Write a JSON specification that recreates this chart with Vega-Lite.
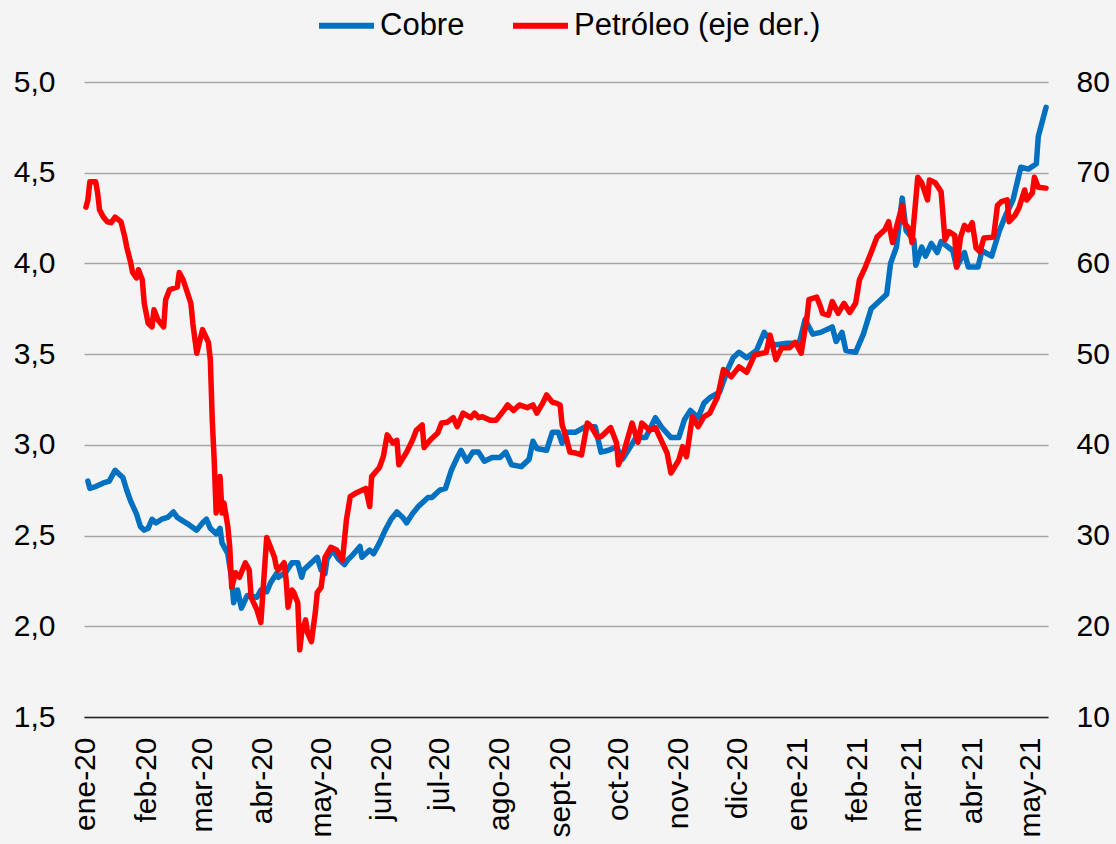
{
  "$schema": "https://vega.github.io/schema/vega-lite/v6.json",
  "width": 964,
  "height": 635,
  "autosize": {"type": "none"},
  "padding": {"left": 84, "top": 82, "right": 68, "bottom": 127},
  "background": "#F4F4F4",
  "config": {
    "view": {"stroke": null},
    "font": "Liberation Sans",
    "axis": {"labelFont": "Liberation Sans", "labelFontSize": 30, "labelColor": "#000000", "ticks": false, "title": null},
    "legend": {"labelFont": "Liberation Sans", "labelFontSize": 31, "labelColor": "#000000", "labelLimit": 0}
  },
  "datasets": {
    "cobre": [
      {"fecha":"2020-01-02","valor":2.80},{"fecha":"2020-01-03","valor":2.76},{"fecha":"2020-01-06","valor":2.77},{"fecha":"2020-01-10","valor":2.79},{"fecha":"2020-01-13","valor":2.80},{"fecha":"2020-01-16","valor":2.86},{"fecha":"2020-01-18","valor":2.84},{"fecha":"2020-01-20","valor":2.82},{"fecha":"2020-01-22","valor":2.75},{"fecha":"2020-01-24","valor":2.69},{"fecha":"2020-01-27","valor":2.62},{"fecha":"2020-01-29","valor":2.55},{"fecha":"2020-01-31","valor":2.53},
      {"fecha":"2020-02-02","valor":2.54},{"fecha":"2020-02-04","valor":2.59},{"fecha":"2020-02-06","valor":2.57},{"fecha":"2020-02-09","valor":2.59},{"fecha":"2020-02-12","valor":2.60},{"fecha":"2020-02-15","valor":2.63},{"fecha":"2020-02-17","valor":2.60},{"fecha":"2020-02-20","valor":2.58},{"fecha":"2020-02-23","valor":2.56},{"fecha":"2020-02-27","valor":2.53},
      {"fecha":"2020-03-01","valor":2.57},{"fecha":"2020-03-03","valor":2.59},{"fecha":"2020-03-05","valor":2.54},{"fecha":"2020-03-08","valor":2.51},{"fecha":"2020-03-10","valor":2.54},{"fecha":"2020-03-11","valor":2.46},{"fecha":"2020-03-14","valor":2.40},{"fecha":"2020-03-16","valor":2.26},{"fecha":"2020-03-17","valor":2.13},{"fecha":"2020-03-19","valor":2.20},{"fecha":"2020-03-21","valor":2.10},{"fecha":"2020-03-24","valor":2.17},{"fecha":"2020-03-29","valor":2.16},{"fecha":"2020-03-31","valor":2.20},
      {"fecha":"2020-04-03","valor":2.19},{"fecha":"2020-04-05","valor":2.24},{"fecha":"2020-04-08","valor":2.29},{"fecha":"2020-04-09","valor":2.27},{"fecha":"2020-04-13","valor":2.30},{"fecha":"2020-04-16","valor":2.35},{"fecha":"2020-04-19","valor":2.35},{"fecha":"2020-04-21","valor":2.27},{"fecha":"2020-04-22","valor":2.31},{"fecha":"2020-04-26","valor":2.35},{"fecha":"2020-04-29","valor":2.38},
      {"fecha":"2020-05-01","valor":2.31},{"fecha":"2020-05-03","valor":2.29},{"fecha":"2020-05-04","valor":2.37},{"fecha":"2020-05-07","valor":2.42},{"fecha":"2020-05-10","valor":2.37},{"fecha":"2020-05-13","valor":2.34},{"fecha":"2020-05-15","valor":2.37},{"fecha":"2020-05-17","valor":2.39},{"fecha":"2020-05-21","valor":2.44},{"fecha":"2020-05-22","valor":2.38},{"fecha":"2020-05-26","valor":2.42},{"fecha":"2020-05-28","valor":2.40},{"fecha":"2020-05-31","valor":2.46},
      {"fecha":"2020-06-03","valor":2.53},{"fecha":"2020-06-06","valor":2.59},{"fecha":"2020-06-09","valor":2.63},{"fecha":"2020-06-12","valor":2.60},{"fecha":"2020-06-14","valor":2.57},{"fecha":"2020-06-17","valor":2.62},{"fecha":"2020-06-20","valor":2.66},{"fecha":"2020-06-25","valor":2.71},{"fecha":"2020-06-27","valor":2.71},
      {"fecha":"2020-07-01","valor":2.75},{"fecha":"2020-07-04","valor":2.76},{"fecha":"2020-07-07","valor":2.86},{"fecha":"2020-07-10","valor":2.93},{"fecha":"2020-07-12","valor":2.97},{"fecha":"2020-07-15","valor":2.91},{"fecha":"2020-07-18","valor":2.96},{"fecha":"2020-07-21","valor":2.96},{"fecha":"2020-07-24","valor":2.91},{"fecha":"2020-07-28","valor":2.93},
      {"fecha":"2020-08-01","valor":2.93},{"fecha":"2020-08-04","valor":2.96},{"fecha":"2020-08-07","valor":2.89},{"fecha":"2020-08-12","valor":2.88},{"fecha":"2020-08-16","valor":2.92},{"fecha":"2020-08-18","valor":3.02},{"fecha":"2020-08-20","valor":2.98},{"fecha":"2020-08-25","valor":2.97},{"fecha":"2020-08-28","valor":3.07},{"fecha":"2020-08-31","valor":3.07},
      {"fecha":"2020-09-02","valor":3.01},{"fecha":"2020-09-04","valor":3.07},{"fecha":"2020-09-09","valor":3.07},{"fecha":"2020-09-14","valor":3.10},{"fecha":"2020-09-19","valor":3.10},{"fecha":"2020-09-22","valor":2.96},{"fecha":"2020-09-26","valor":2.97},{"fecha":"2020-09-30","valor":2.99},
      {"fecha":"2020-10-03","valor":2.92},{"fecha":"2020-10-06","valor":2.97},{"fecha":"2020-10-10","valor":3.04},{"fecha":"2020-10-15","valor":3.04},{"fecha":"2020-10-20","valor":3.15},{"fecha":"2020-10-23","valor":3.10},{"fecha":"2020-10-28","valor":3.04},
      {"fecha":"2020-11-01","valor":3.04},{"fecha":"2020-11-04","valor":3.14},{"fecha":"2020-11-07","valor":3.19},{"fecha":"2020-11-11","valor":3.15},{"fecha":"2020-11-14","valor":3.23},{"fecha":"2020-11-17","valor":3.26},{"fecha":"2020-11-22","valor":3.29},{"fecha":"2020-11-26","valor":3.41},{"fecha":"2020-11-29","valor":3.48},
      {"fecha":"2020-12-02","valor":3.51},{"fecha":"2020-12-06","valor":3.48},{"fecha":"2020-12-11","valor":3.52},{"fecha":"2020-12-15","valor":3.62},{"fecha":"2020-12-20","valor":3.55},{"fecha":"2020-12-27","valor":3.56},
      {"fecha":"2021-01-02","valor":3.56},{"fecha":"2021-01-05","valor":3.69},{"fecha":"2021-01-09","valor":3.61},{"fecha":"2021-01-13","valor":3.62},{"fecha":"2021-01-19","valor":3.65},{"fecha":"2021-01-21","valor":3.57},{"fecha":"2021-01-24","valor":3.62},{"fecha":"2021-01-26","valor":3.52},{"fecha":"2021-01-31","valor":3.51},
      {"fecha":"2021-02-04","valor":3.61},{"fecha":"2021-02-08","valor":3.75},{"fecha":"2021-02-12","valor":3.79},{"fecha":"2021-02-16","valor":3.83},{"fecha":"2021-02-18","valor":4.00},{"fecha":"2021-02-21","valor":4.09},{"fecha":"2021-02-24","valor":4.36},{"fecha":"2021-02-26","valor":4.18},
      {"fecha":"2021-03-02","valor":4.13},{"fecha":"2021-03-03","valor":3.99},{"fecha":"2021-03-06","valor":4.09},{"fecha":"2021-03-08","valor":4.04},{"fecha":"2021-03-11","valor":4.11},{"fecha":"2021-03-14","valor":4.06},{"fecha":"2021-03-16","valor":4.12},{"fecha":"2021-03-22","valor":4.07},{"fecha":"2021-03-24","valor":3.98},{"fecha":"2021-03-28","valor":4.06},{"fecha":"2021-03-30","valor":3.98},
      {"fecha":"2021-04-04","valor":3.98},{"fecha":"2021-04-06","valor":4.07},{"fecha":"2021-04-11","valor":4.04},{"fecha":"2021-04-15","valor":4.18},{"fecha":"2021-04-18","valor":4.26},{"fecha":"2021-04-22","valor":4.35},{"fecha":"2021-04-26","valor":4.53},{"fecha":"2021-04-30","valor":4.52},
      {"fecha":"2021-05-04","valor":4.55},{"fecha":"2021-05-05","valor":4.70},{"fecha":"2021-05-09","valor":4.86}
    ],
    "petroleo": [
      {"fecha":"2020-01-01","valor":66.2},{"fecha":"2020-01-02","valor":67.0},{"fecha":"2020-01-03","valor":69.0},{"fecha":"2020-01-06","valor":69.0},{"fecha":"2020-01-07","valor":67.8},{"fecha":"2020-01-08","valor":65.9},{"fecha":"2020-01-10","valor":65.1},{"fecha":"2020-01-12","valor":64.6},{"fecha":"2020-01-14","valor":64.5},{"fecha":"2020-01-16","valor":65.1},{"fecha":"2020-01-19","valor":64.6},{"fecha":"2020-01-21","valor":62.9},{"fecha":"2020-01-22","valor":61.8},{"fecha":"2020-01-24","valor":60.1},{"fecha":"2020-01-25","valor":59.0},{"fecha":"2020-01-27","valor":58.4},{"fecha":"2020-01-28","valor":59.3},{"fecha":"2020-01-30","valor":58.2},{"fecha":"2020-01-31","valor":55.6},
      {"fecha":"2020-02-02","valor":53.4},{"fecha":"2020-02-04","valor":53.0},{"fecha":"2020-02-05","valor":54.9},{"fecha":"2020-02-07","valor":53.8},{"fecha":"2020-02-10","valor":53.0},{"fecha":"2020-02-11","valor":56.0},{"fecha":"2020-02-13","valor":57.1},{"fecha":"2020-02-17","valor":57.4},{"fecha":"2020-02-18","valor":59.0},{"fecha":"2020-02-20","valor":58.2},{"fecha":"2020-02-24","valor":55.6},{"fecha":"2020-02-25","valor":53.4},{"fecha":"2020-02-27","valor":50.1},
      {"fecha":"2020-03-01","valor":52.7},{"fecha":"2020-03-04","valor":51.3},{"fecha":"2020-03-05","valor":49.4},{"fecha":"2020-03-06","valor":42.7},{"fecha":"2020-03-07","valor":38.3},{"fecha":"2020-03-08","valor":32.5},{"fecha":"2020-03-10","valor":36.5},{"fecha":"2020-03-11","valor":32.5},{"fecha":"2020-03-12","valor":33.6},{"fecha":"2020-03-14","valor":31.0},{"fecha":"2020-03-15","valor":28.7},{"fecha":"2020-03-16","valor":24.3},{"fecha":"2020-03-18","valor":25.9},{"fecha":"2020-03-20","valor":25.4},{"fecha":"2020-03-23","valor":27.0},{"fecha":"2020-03-25","valor":26.2},{"fecha":"2020-03-26","valor":23.2},{"fecha":"2020-03-29","valor":21.8},{"fecha":"2020-03-31","valor":20.4},
      {"fecha":"2020-04-03","valor":29.8},{"fecha":"2020-04-05","valor":28.7},{"fecha":"2020-04-07","valor":27.6},{"fecha":"2020-04-08","valor":26.5},{"fecha":"2020-04-09","valor":26.2},{"fecha":"2020-04-12","valor":27.0},{"fecha":"2020-04-13","valor":25.1},{"fecha":"2020-04-14","valor":22.1},{"fecha":"2020-04-16","valor":24.0},{"fecha":"2020-04-17","valor":23.7},{"fecha":"2020-04-19","valor":22.6},{"fecha":"2020-04-20","valor":17.4},{"fecha":"2020-04-21","valor":19.3},{"fecha":"2020-04-23","valor":20.7},{"fecha":"2020-04-24","valor":19.3},{"fecha":"2020-04-26","valor":18.3},{"fecha":"2020-04-28","valor":21.5},{"fecha":"2020-04-29","valor":23.7},
      {"fecha":"2020-05-01","valor":24.3},{"fecha":"2020-05-03","valor":27.6},{"fecha":"2020-05-06","valor":28.7},{"fecha":"2020-05-09","valor":28.4},{"fecha":"2020-05-12","valor":27.3},{"fecha":"2020-05-14","valor":31.7},{"fecha":"2020-05-16","valor":34.3},{"fecha":"2020-05-19","valor":34.7},{"fecha":"2020-05-22","valor":35.0},{"fecha":"2020-05-24","valor":35.2},{"fecha":"2020-05-26","valor":33.2},{"fecha":"2020-05-27","valor":36.5},{"fecha":"2020-05-31","valor":37.5},
      {"fecha":"2020-06-02","valor":38.7},{"fecha":"2020-06-04","valor":41.1},{"fecha":"2020-06-07","valor":40.2},{"fecha":"2020-06-09","valor":40.5},{"fecha":"2020-06-10","valor":37.8},{"fecha":"2020-06-14","valor":39.2},{"fecha":"2020-06-17","valor":40.5},{"fecha":"2020-06-19","valor":41.6},{"fecha":"2020-06-22","valor":42.2},{"fecha":"2020-06-23","valor":39.7},{"fecha":"2020-06-26","valor":40.5},{"fecha":"2020-06-30","valor":41.3},
      {"fecha":"2020-07-02","valor":42.4},{"fecha":"2020-07-05","valor":42.5},{"fecha":"2020-07-08","valor":43.0},{"fecha":"2020-07-10","valor":42.0},{"fecha":"2020-07-13","valor":43.5},{"fecha":"2020-07-17","valor":43.0},{"fecha":"2020-07-19","valor":43.5},{"fecha":"2020-07-21","valor":43.0},{"fecha":"2020-07-23","valor":43.1},{"fecha":"2020-07-27","valor":42.7},{"fecha":"2020-07-30","valor":42.7},
      {"fecha":"2020-08-03","valor":43.8},{"fecha":"2020-08-05","valor":44.4},{"fecha":"2020-08-08","valor":43.8},{"fecha":"2020-08-11","valor":44.4},{"fecha":"2020-08-15","valor":44.1},{"fecha":"2020-08-18","valor":44.4},{"fecha":"2020-08-20","valor":43.5},{"fecha":"2020-08-23","valor":44.6},{"fecha":"2020-08-25","valor":45.5},{"fecha":"2020-08-28","valor":44.7},{"fecha":"2020-08-30","valor":44.6},
      {"fecha":"2020-09-01","valor":44.4},{"fecha":"2020-09-02","valor":42.2},{"fecha":"2020-09-04","valor":40.9},{"fecha":"2020-09-06","valor":39.2},{"fecha":"2020-09-09","valor":39.1},{"fecha":"2020-09-12","valor":38.9},{"fecha":"2020-09-15","valor":42.4},{"fecha":"2020-09-17","valor":42.0},{"fecha":"2020-09-20","valor":40.9},{"fecha":"2020-09-22","valor":40.9},{"fecha":"2020-09-27","valor":41.9},{"fecha":"2020-09-30","valor":40.2},
      {"fecha":"2020-10-01","valor":37.8},{"fecha":"2020-10-04","valor":39.4},{"fecha":"2020-10-08","valor":42.4},{"fecha":"2020-10-11","valor":40.3},{"fecha":"2020-10-13","valor":42.4},{"fecha":"2020-10-17","valor":41.6},{"fecha":"2020-10-20","valor":41.9},{"fecha":"2020-10-23","valor":40.5},{"fecha":"2020-10-26","valor":39.1},{"fecha":"2020-10-28","valor":36.9},
      {"fecha":"2020-11-01","valor":38.3},{"fecha":"2020-11-03","valor":39.8},{"fecha":"2020-11-05","valor":38.7},{"fecha":"2020-11-08","valor":43.1},{"fecha":"2020-11-11","valor":42.0},{"fecha":"2020-11-14","valor":43.1},{"fecha":"2020-11-17","valor":43.5},{"fecha":"2020-11-21","valor":45.3},{"fecha":"2020-11-24","valor":48.3},{"fecha":"2020-11-28","valor":47.5},
      {"fecha":"2020-12-02","valor":48.6},{"fecha":"2020-12-06","valor":48.0},{"fecha":"2020-12-10","valor":49.9},{"fecha":"2020-12-16","valor":50.2},{"fecha":"2020-12-18","valor":52.1},{"fecha":"2020-12-21","valor":49.4},{"fecha":"2020-12-24","valor":50.7},{"fecha":"2020-12-28","valor":50.7},{"fecha":"2020-12-31","valor":51.3},
      {"fecha":"2021-01-03","valor":50.1},{"fecha":"2021-01-06","valor":54.1},{"fecha":"2021-01-07","valor":56.0},{"fecha":"2021-01-11","valor":56.3},{"fecha":"2021-01-13","valor":55.2},{"fecha":"2021-01-14","valor":54.5},{"fecha":"2021-01-17","valor":54.3},{"fecha":"2021-01-19","valor":55.8},{"fecha":"2021-01-22","valor":54.5},{"fecha":"2021-01-25","valor":55.6},{"fecha":"2021-01-28","valor":54.6},{"fecha":"2021-01-31","valor":55.6},
      {"fecha":"2021-02-02","valor":58.2},{"fecha":"2021-02-05","valor":59.6},{"fecha":"2021-02-08","valor":61.2},{"fecha":"2021-02-11","valor":62.9},{"fecha":"2021-02-15","valor":63.7},{"fecha":"2021-02-17","valor":64.6},{"fecha":"2021-02-19","valor":62.3},{"fecha":"2021-02-22","valor":64.8},{"fecha":"2021-02-24","valor":66.4},{"fecha":"2021-02-25","valor":64.5},{"fecha":"2021-02-28","valor":63.7},
      {"fecha":"2021-03-01","valor":62.3},{"fecha":"2021-03-04","valor":69.5},{"fecha":"2021-03-06","valor":68.9},{"fecha":"2021-03-09","valor":67.0},{"fecha":"2021-03-10","valor":69.2},{"fecha":"2021-03-13","valor":68.9},{"fecha":"2021-03-16","valor":67.9},{"fecha":"2021-03-18","valor":62.6},{"fecha":"2021-03-20","valor":63.5},{"fecha":"2021-03-23","valor":63.1},{"fecha":"2021-03-24","valor":59.6},{"fecha":"2021-03-26","valor":62.9},{"fecha":"2021-03-28","valor":64.2},{"fecha":"2021-03-30","valor":63.7},
      {"fecha":"2021-04-01","valor":64.5},{"fecha":"2021-04-03","valor":61.7},{"fecha":"2021-04-05","valor":61.3},{"fecha":"2021-04-07","valor":62.8},{"fecha":"2021-04-12","valor":62.9},{"fecha":"2021-04-14","valor":66.4},{"fecha":"2021-04-16","valor":66.8},{"fecha":"2021-04-19","valor":67.0},{"fecha":"2021-04-20","valor":64.6},{"fecha":"2021-04-23","valor":65.3},{"fecha":"2021-04-25","valor":66.1},{"fecha":"2021-04-28","valor":68.1},{"fecha":"2021-04-29","valor":67.0},
      {"fecha":"2021-05-02","valor":67.8},{"fecha":"2021-05-03","valor":69.5},{"fecha":"2021-05-05","valor":68.4},{"fecha":"2021-05-09","valor":68.3}
    ]
  },
  "encoding": {
    "x": {
      "field": "fecha",
      "type": "temporal",
      "scale": {
        "type": "utc",
        "domain": [{"year": 2019, "month": 12, "date": 31, "utc": true}, {"year": 2021, "month": 5, "date": 10, "utc": true}]
      },
      "axis": {
        "orient": "bottom",
        "grid": false,
        "domain": true,
        "domainColor": "#262626",
        "domainWidth": 1.5,
        "tickCount": {"interval": "month", "step": 1},
        "labelAngle": -90,
        "labelPadding": 20,
        "labelFlush": false,
        "labelOverlap": false,
        "labelBound": false,
        "labelExpr": "['ene','feb','mar','abr','may','jun','jul','ago','sept','oct','nov','dic'][utcmonth(datum.value)] + '-' + utcFormat(datum.value, '%y')"
      }
    }
  },
  "layer": [
    {
      "data": {"name": "cobre"},
      "mark": {"type": "line", "strokeWidth": 5.5, "strokeJoin": "round", "strokeCap": "round"},
      "encoding": {
        "y": {
          "field": "valor",
          "type": "quantitative",
          "scale": {"domain": [1.5, 5.0], "nice": false, "zero": false},
          "axis": {
            "orient": "left",
            "values": [1.5, 2.0, 2.5, 3.0, 3.5, 4.0, 4.5, 5.0],
            "grid": true,
            "gridColor": "#A6A6A6",
            "gridWidth": 1.5,
            "domain": false,
            "labelPadding": 29,
            "labelExpr": "replace(format(datum.value, '.1f'), '.', ',')"
          }
        },
        "color": {
          "datum": "Cobre",
          "type": "nominal",
          "scale": {"domain": ["Cobre", "Petróleo (eje der.)"], "range": ["#0070C0", "#FF0000"]},
          "legend": {
            "orient": "none",
            "direction": "horizontal",
            "legendX": 232,
            "legendY": -87,
            "title": null,
            "symbolType": "stroke",
            "symbolSize": 3025,
            "symbolStrokeWidth": 6,
            "labelOffset": 3,
            "labelLimit": 0,
            "columnPadding": 36
          }
        }
      }
    },
    {
      "data": {"name": "petroleo"},
      "mark": {"type": "line", "strokeWidth": 5.5, "strokeJoin": "round", "strokeCap": "round"},
      "encoding": {
        "y": {
          "field": "valor",
          "type": "quantitative",
          "scale": {"domain": [10, 80], "nice": false, "zero": false},
          "axis": {
            "orient": "right",
            "values": [10, 20, 30, 40, 50, 60, 70, 80],
            "grid": false,
            "domain": false,
            "labelPadding": 28
          }
        },
        "color": {"datum": "Petróleo (eje der.)", "type": "nominal"}
      }
    }
  ],
  "resolve": {"scale": {"y": "independent"}}
}
